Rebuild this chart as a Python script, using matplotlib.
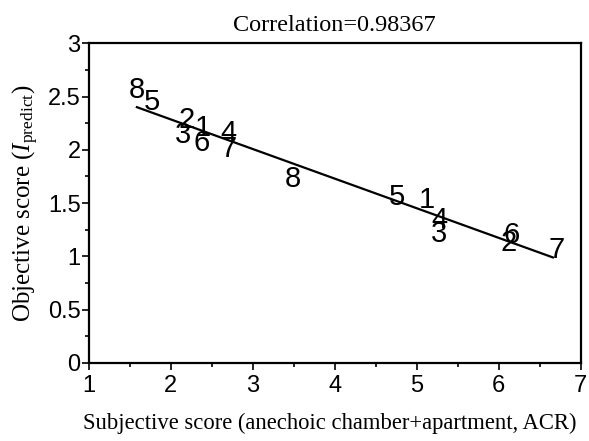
import numpy as np
import matplotlib.pyplot as plt
from matplotlib.ticker import MultipleLocator

plt.rcParams["mathtext.fontset"] = "custom"
plt.rcParams["mathtext.rm"] = "Liberation Serif"
plt.rcParams["mathtext.it"] = "Liberation Serif:italic"

# condition labels and their (subjective, objective) scores
labels = ["8", "5", "2", "3", "1", "6", "4", "7",
          "8", "5", "1", "4", "3", "6", "2", "7"]
subjective = [1.585, 1.77, 2.19, 2.15, 2.39, 2.37, 2.70, 2.70,
              3.49, 4.76, 5.12, 5.28, 5.27, 6.16, 6.12, 6.71]
objective = [2.56, 2.45, 2.28, 2.14, 2.20, 2.06, 2.16, 2.01,
             1.73, 1.56, 1.53, 1.34, 1.21, 1.20, 1.13, 1.06]

# regression line end points
fit_x = [1.585, 6.66]
fit_y = [2.40, 0.99]

fig = plt.figure(figsize=(5.89, 4.41), dpi=100)
ax = fig.add_axes([0.151, 0.177, 0.835, 0.725])

for lab, x, y in zip(labels, subjective, objective):
    ax.text(x, y, lab, ha="center", va="center", fontsize=21,
            family="Liberation Sans", color="black")

ax.plot(fit_x, fit_y, color="black", lw=1.6)

ax.set_xlim(1, 7)
ax.set_ylim(0, 3)
ax.xaxis.set_major_locator(MultipleLocator(1))
ax.xaxis.set_minor_locator(MultipleLocator(0.5))
ax.yaxis.set_major_locator(MultipleLocator(0.5))
ax.yaxis.set_minor_locator(MultipleLocator(0.25))
ax.yaxis.set_major_formatter(plt.FuncFormatter(lambda v, p: f"{v:g}"))
ax.tick_params(which="both", direction="out", top=False, right=False,
               width=1.2, labelsize=17)
ax.tick_params(which="major", length=5)
ax.tick_params(which="minor", length=3)
ax.tick_params(axis="y", pad=1)
ax.tick_params(axis="x", pad=4)
for lab in ax.get_xticklabels() + ax.get_yticklabels():
    lab.set_family("Liberation Sans")
for s in ax.spines.values():
    s.set_linewidth(1.6)

ax.set_xlabel("Subjective score (anechoic chamber+apartment, ACR)",
              family="Liberation Serif", fontsize=16.3, labelpad=8)
ax.xaxis.set_label_coords(0.49, -0.155)
ax.set_ylabel(r"Objective score ($\mathit{I}_{\rm predict}$)",
              family="Liberation Serif", fontsize=18, labelpad=5)
ax.set_title("Correlation=0.98367", family="Liberation Serif",
             fontsize=17.5, pad=9)

fig.savefig("out.png", dpi=100)
